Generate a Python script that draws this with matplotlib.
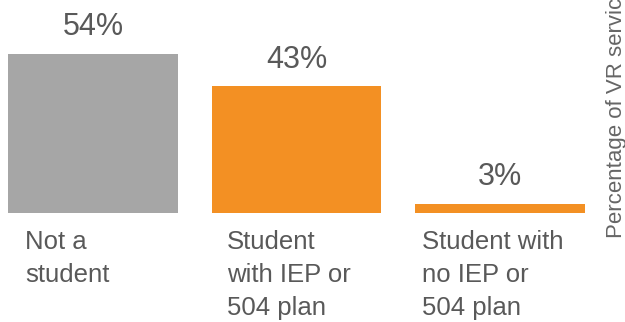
import matplotlib
matplotlib.use("Agg")
import matplotlib.pyplot as plt

plt.rcParams["font.family"] = ["Liberation Sans", "DejaVu Sans"]

GRAY = "#a6a6a6"
ORANGE = "#f39023"
TEXT = "#595959"

categories = ["Not a\nstudent", "Student\nwith IEP or\n504 plan", "Student with\nno IEP or\n504 plan"]
values = [54, 43, 3]
bar_colors = [GRAY, ORANGE, ORANGE]
axis_label = "Percentage of VR service recipients"

fig = plt.figure(figsize=(6.25, 3.22), dpi=100)
ax = fig.add_axes([0, 109 / 322, 1, 213 / 322])

x = list(range(len(values)))
bars = ax.bar(x, values, width=0.835, color=bar_colors)

ax.set_xlim(-93 / 203.5, (625 - 93) / 203.5)
ax.set_ylim(0, 213 / 2.945)
ax.axis("off")

for b, v in zip(bars, values):
    ax.annotate(f"{v}%", (b.get_x() + b.get_width() / 2, v),
                xytext=(0, 13.5), textcoords="offset points",
                ha="center", va="baseline", fontsize=22, color=TEXT)

# category names sit under each bar, left aligned
label_shift = [-0.335, -0.34, -0.385]
for xi, name, dx in zip(x, categories, label_shift):
    ax.annotate(name, (xi + dx, 0), xytext=(0, -12.5), textcoords="offset points",
                ha="left", va="top", fontsize=18.5, color=TEXT,
                linespacing=1.47, annotation_clip=False)

fig.text(627 / 625, 1 - 238 / 322, axis_label, rotation=90,
         ha="right", va="bottom", fontsize=16, color="#666666")

fig.savefig("out.png", dpi=100)
